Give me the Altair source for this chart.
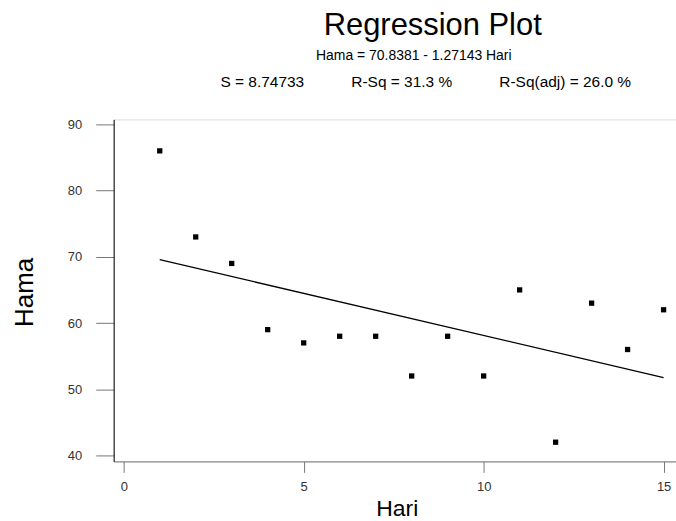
import altair as alt
import pandas as pd

hari = [1, 2, 3, 4, 5, 6, 7, 8, 9, 10, 11, 12, 13, 14, 15]
hama = [86, 73, 69, 59, 57, 58, 58, 52, 58, 52, 65, 42, 63, 56, 62]

x_ticks = [0, 5, 10, 15]
y_ticks = [40, 50, 60, 70, 80, 90]

title = "Regression Plot"
equation = "Hama = 70.8381 - 1.27143 Hari"
NB = "\u00a0"
stats = f"S = 8.74733{NB*11}R-Sq = 31.3 %{NB*11}R-Sq(adj) = 26.0 %"

df = pd.DataFrame({"Hari": hari, "Hama": hama})
ann = pd.DataFrame({"ti": [title], "eq": [equation], "st": [stats]})

FONT = "Liberation Sans"

xs = alt.Scale(domain=[-0.28, 15.345], nice=False, zero=False)
ys = alt.Scale(domain=[39.1, 90.75], nice=False, zero=False)

xaxis = alt.Axis(values=x_ticks, grid=False, domainColor="#777777", tickColor="#777777",
                 tickSize=11, labelFontSize=13, labelColor="#333333", labelPadding=8,
                 labelFont=FONT, title="Hari", titleFont=FONT, titleFontSize=23,
                 titleFontWeight="normal", titleColor="black",
                 titleBaseline="alphabetic", titleY=54, titleX=284)
yaxis = alt.Axis(values=y_ticks, grid=False, domainColor="black", tickColor="#777777",
                 tickSize=18, labelFontSize=13, labelColor="#333333", labelPadding=14,
                 labelFont=FONT, title="Hama", titleFont=FONT, titleFontSize=26,
                 titleFontWeight="normal", titleColor="black",
                 titleBaseline="alphabetic", titleX=-81, titleY=173, titleAngle=270,
                 titleAlign="center")

base = alt.Chart(df)

points = base.mark_square(size=28, color="black", opacity=1).encode(
    x=alt.X("Hari:Q", scale=xs, axis=xaxis),
    y=alt.Y("Hama:Q", scale=ys, axis=yaxis),
)

line = base.transform_regression("Hari", "Hama").mark_line(
    color="black", strokeWidth=1.3
).encode(
    x=alt.X("Hari:Q", scale=xs),
    y=alt.Y("Hama:Q", scale=ys),
)

ti_text = alt.Chart(ann).mark_text(
    font=FONT, fontSize=31, color="black", align="center", baseline="alphabetic"
).encode(text="ti:N", x=alt.value(320), y=alt.value(-85))

eq_text = alt.Chart(ann).mark_text(
    font=FONT, fontSize=14, color="black", align="center", baseline="alphabetic"
).encode(text="eq:N", x=alt.value(301), y=alt.value(-60))

st_text = alt.Chart(ann).mark_text(
    font=FONT, fontSize=15.5, color="black", align="center", baseline="alphabetic"
).encode(text="st:N", x=alt.value(313), y=alt.value(-33))

chart = alt.layer(line, points, ti_text, eq_text, st_text).properties(
    width=564,
    height=343,
    autosize=alt.AutoSizeParams(type="none"),
    padding={"left": 114, "top": 119, "right": 0, "bottom": 59},
).configure_view(stroke="#888888", strokeWidth=1.5).configure(background="white")

chart.save("out.html", embed_options={"renderer": "svg", "actions": False})
